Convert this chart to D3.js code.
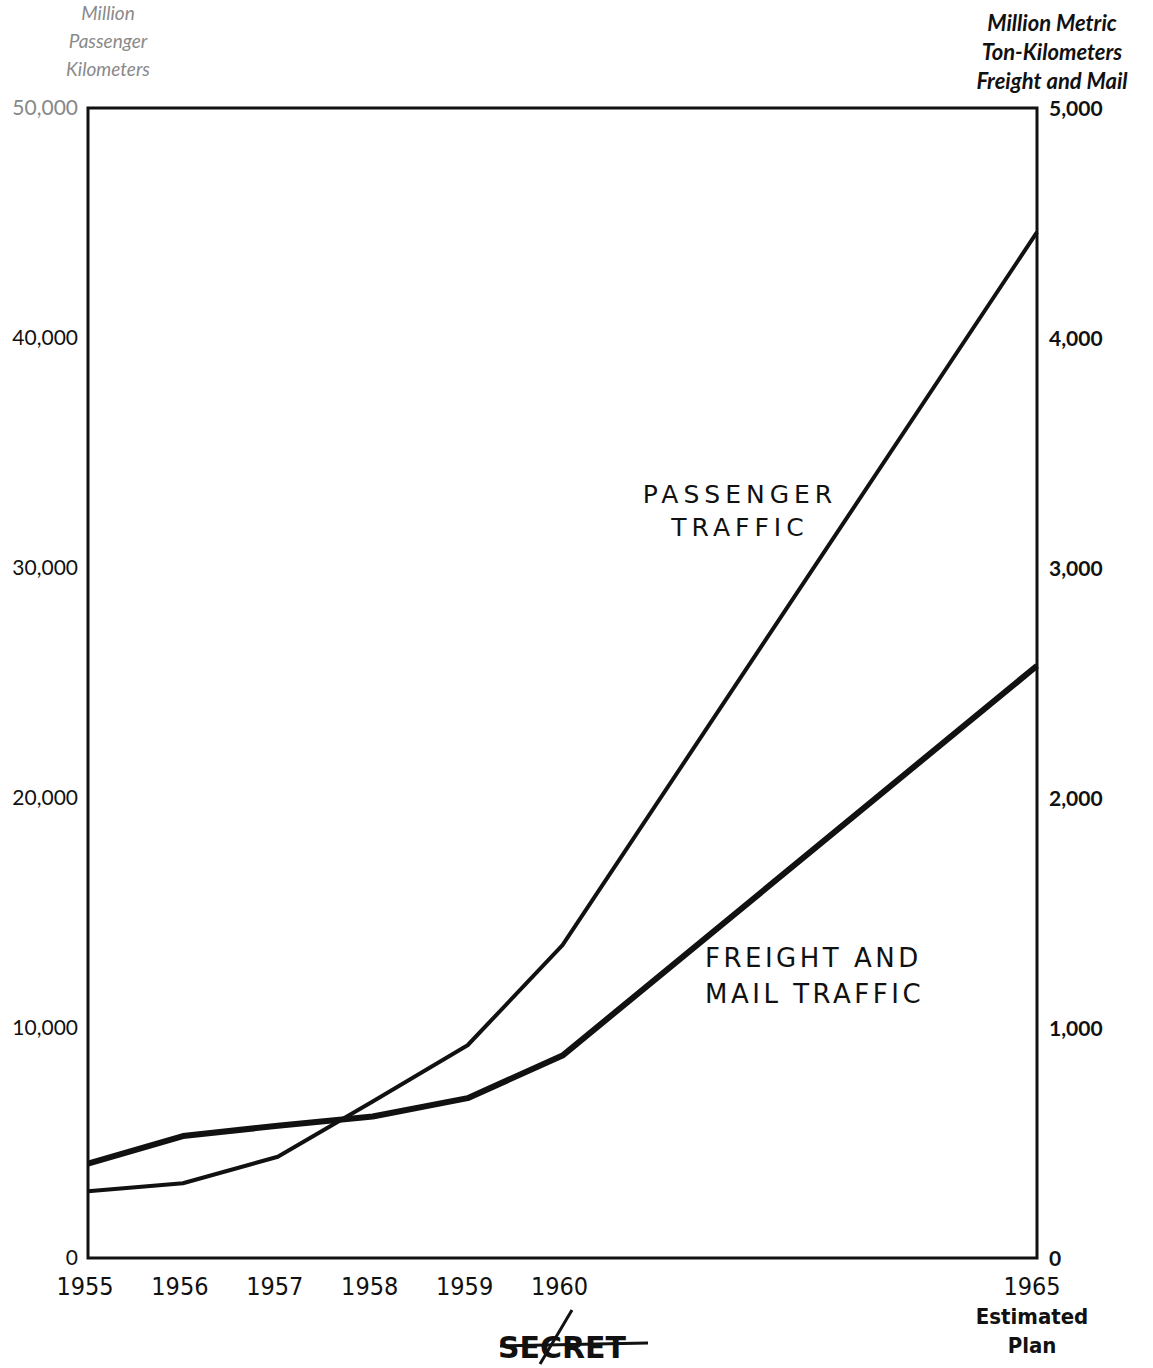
<!DOCTYPE html>
<html>
<head>
<meta charset="utf-8">
<script src="https://cdn.jsdelivr.net/npm/d3@7"></script>
<style>
  body { margin: 0; background: #fff; }
  svg { display: block; }
</style>
</head>
<body>
<div id="chart"></div>
<script>
// Data
const years = [1955, 1956, 1957, 1958, 1959, 1960, 1965];
const passenger = [2900, 3250, 4400, 6800, 9250, 13600, 44600];   // million passenger-km
const freight = [410, 530, 575, 615, 695, 880, 2575];              // million metric ton-km
const leftTicks = [0, 10000, 20000, 30000, 40000, 50000];
const rightTicks = [0, 1000, 2000, 3000, 4000, 5000];
const yearTicks = [1955, 1956, 1957, 1958, 1959, 1960, 1965];

const width = 1153;
const height = 1368;
const margin = { top: 108, right: 116, bottom: 110, left: 88 };

const svg = d3.select('#chart')
    .append('svg')
    .attr('width', width)
    .attr('height', height);

const x = d3.scaleLinear()
    .domain([1955, 1965])
    .range([margin.left, width - margin.right]);

const yLeft = d3.scaleLinear()
    .domain([0, 50000])
    .range([height - margin.bottom, margin.top]);

const yRight = d3.scaleLinear()
    .domain([0, 5000])
    .range([height - margin.bottom, margin.top]);

const fmt = d3.format(',');
const condensed = '"DejaVu Sans", sans-serif';

// Frame
svg.append('rect')
    .attr('x', x(1955))
    .attr('y', yLeft(50000))
    .attr('width', x(1965) - x(1955))
    .attr('height', yLeft(0) - yLeft(50000))
    .attr('fill', 'none')
    .attr('stroke', '#111')
    .attr('stroke-width', 3);

// Left axis labels
svg.append('g')
    .selectAll('text')
    .data(leftTicks)
    .enter()
    .append('text')
    .attr('x', x(1955) - 10)
    .attr('y', d => yLeft(d) + 7)
    .attr('text-anchor', 'end')
    .attr('font-family', 'Lato, sans-serif')
    .attr('font-size', 21)
    .attr('fill', d => d === 50000 ? '#888' : '#111')
    .text(d => fmt(d));

// Right axis labels
svg.append('g')
    .selectAll('text')
    .data(rightTicks)
    .enter()
    .append('text')
    .attr('x', x(1965) + 12)
    .attr('y', d => yRight(d) + 8)
    .attr('font-family', 'Lato, sans-serif')
    .attr('font-size', 21)
    .attr('font-weight', 'bold')
    .attr('fill', '#111')
    .text(d => fmt(d));

// Year labels
svg.append('g')
    .selectAll('text')
    .data(yearTicks)
    .enter()
    .append('text')
    .attr('x', d => x(d) - (d === 1965 ? 5 : 3))
    .attr('y', height - margin.bottom + 37)
    .attr('text-anchor', 'middle')
    .attr('font-family', condensed)
    .attr('font-stretch', 'condensed')
    .attr('font-size', 25)
    .attr('fill', '#111')
    .text(d => d);

svg.append('g')
    .selectAll('text')
    .data(['Estimated', 'Plan'])
    .enter()
    .append('text')
    .attr('x', x(1965) - 5)
    .attr('y', (d, i) => height - margin.bottom + 66 + i * 29)
    .attr('text-anchor', 'middle')
    .attr('font-family', condensed)
    .attr('font-stretch', 'condensed')
    .attr('font-weight', 'bold')
    .attr('font-size', 22)
    .attr('fill', '#111')
    .text(d => d);

// Axis titles
svg.append('g')
    .selectAll('text')
    .data(['Million', 'Passenger', 'Kilometers'])
    .enter()
    .append('text')
    .attr('x', 108)
    .attr('y', (d, i) => 20 + i * 28)
    .attr('text-anchor', 'middle')
    .attr('font-family', 'Lato, sans-serif')
    .attr('font-style', 'italic')
    .attr('font-size', 19)
    .attr('fill', '#8a8a8a')
    .text(d => d);

svg.append('g')
    .selectAll('text')
    .data(['Million Metric', 'Ton-Kilometers', 'Freight and Mail'])
    .enter()
    .append('text')
    .attr('x', 1052)
    .attr('y', (d, i) => 31 + i * 29)
    .attr('text-anchor', 'middle')
    .attr('font-family', 'Lato, sans-serif')
    .attr('font-style', 'italic')
    .attr('font-weight', 'bold')
    .attr('font-size', 22)
    .attr('fill', '#111')
    .text(d => d);

// Lines
const passLine = d3.line()
    .x((d, i) => x(years[i]))
    .y(d => yLeft(d));

const freightLine = d3.line()
    .x((d, i) => x(years[i]))
    .y(d => yRight(d));

svg.append('path')
    .datum(passenger)
    .attr('d', passLine)
    .attr('fill', 'none')
    .attr('stroke', '#111')
    .attr('stroke-width', 4)
    .attr('stroke-linejoin', 'round');

svg.append('path')
    .datum(freight)
    .attr('d', freightLine)
    .attr('fill', 'none')
    .attr('stroke', '#111')
    .attr('stroke-width', 6)
    .attr('stroke-linejoin', 'round');

// Series labels
svg.append('g')
    .selectAll('text')
    .data(['PASSENGER', 'TRAFFIC'])
    .enter()
    .append('text')
    .attr('x', 740)
    .attr('y', (d, i) => 503 + i * 33)
    .attr('text-anchor', 'middle')
    .attr('font-family', '"DejaVu Sans", sans-serif')
    .attr('font-size', 25)
    .attr('letter-spacing', 5)
    .attr('fill', '#111')
    .text(d => d);

svg.append('g')
    .selectAll('text')
    .data(['FREIGHT AND', 'MAIL TRAFFIC'])
    .enter()
    .append('text')
    .attr('x', 705)
    .attr('y', (d, i) => 967 + i * 36)
    .attr('font-family', '"DejaVu Sans", sans-serif')
    .attr('font-size', 26)
    .attr('letter-spacing', 3.5)
    .attr('fill', '#111')
    .text(d => d);

// Classification stamp
const stamp = svg.append('g');
stamp.append('text')
    .attr('x', 562)
    .attr('y', 1358)
    .attr('text-anchor', 'middle')
    .attr('font-family', '"DejaVu Sans", sans-serif')
    .attr('font-weight', 'bold')
    .attr('font-size', 30)
    .attr('fill', '#111')
    .text('SECRET');
stamp.append('line')
    .attr('x1', 500).attr('y1', 1346)
    .attr('x2', 648).attr('y2', 1343)
    .attr('stroke', '#111').attr('stroke-width', 3);
stamp.append('line')
    .attr('x1', 540).attr('y1', 1364)
    .attr('x2', 572).attr('y2', 1310)
    .attr('stroke', '#111').attr('stroke-width', 3);
</script>
</body>
</html>
